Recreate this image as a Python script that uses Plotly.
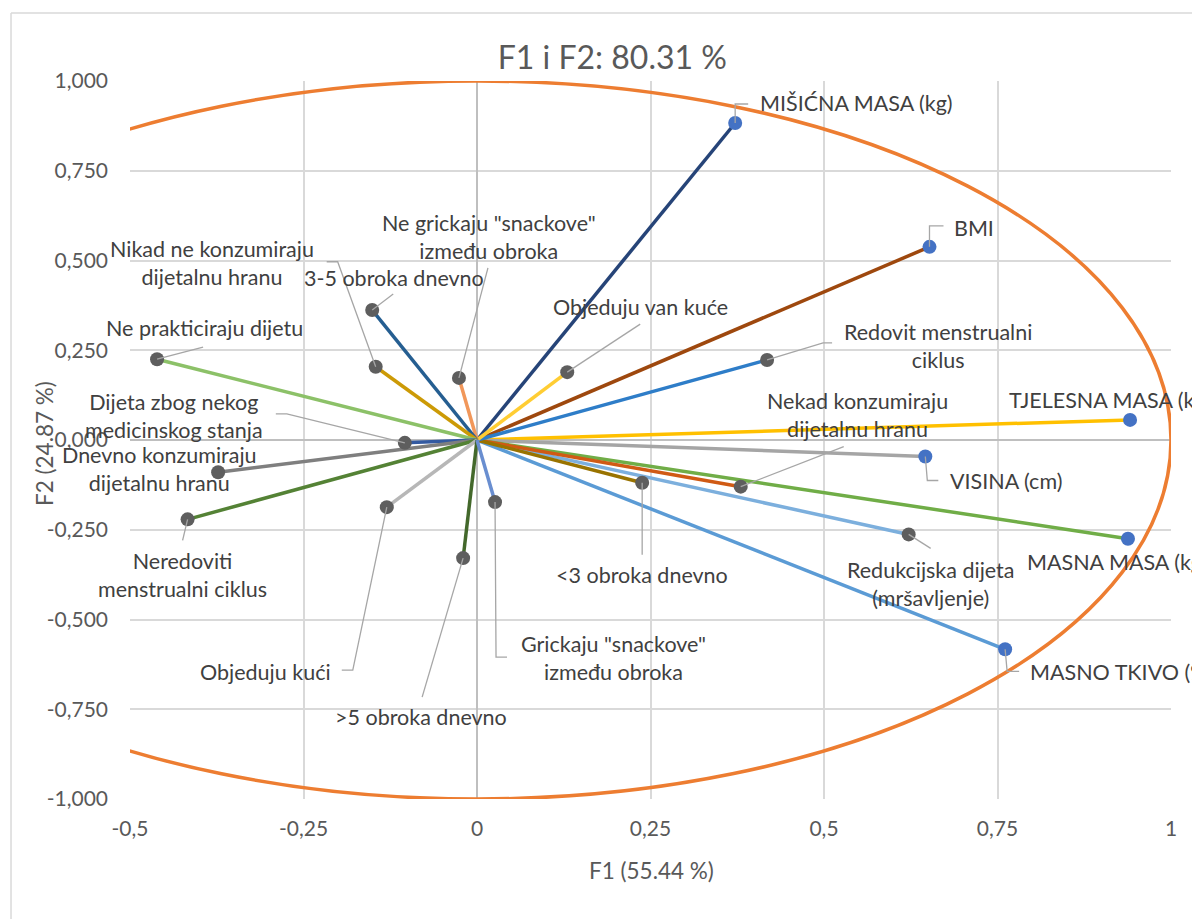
import plotly.graph_objects as go

# correlation circle: variables (F1, F2 loadings)
names = [
    "MIŠIĆNA MASA (kg)", "BMI", "TJELESNA MASA (kg)", "VISINA (cm)",
    "MASNA MASA (kg)", "MASNO TKIVO (%)",
    "Redukcijska dijeta<br>(mršavljenje)", "Nekad konzumiraju<br>dijetalnu hranu",
    "<3 obroka dnevno", "Redovit menstrualni<br>ciklus", "Objeduju van kuće",
    "Ne grickaju \"snackove\"<br>između obroka", "3-5 obroka dnevno",
    "Nikad ne konzumiraju<br>dijetalnu hranu", "Ne prakticiraju dijetu",
    "Dijeta zbog nekog<br>medicinskog stanja", "Dnevno konzumiraju<br>dijetalnu hranu",
    "Neredoviti<br>menstrualni ciklus", "Objeduju kući", ">5 obroka dnevno",
    "Grickaju \"snackove\"<br>između obroka",
]
f1 = [0.372, 0.652, 0.941, 0.646, 0.938, 0.761, 0.622, 0.380, 0.238, 0.418, 0.130,
      -0.026, -0.151, -0.146, -0.461, -0.104, -0.373, -0.417, -0.130, -0.020, 0.026]
f2 = [0.883, 0.538, 0.056, -0.046, -0.275, -0.583, -0.263, -0.130, -0.119, 0.223, 0.189,
      0.173, 0.362, 0.204, 0.225, -0.008, -0.090, -0.221, -0.187, -0.329, -0.173]
active = [True] * 6 + [False] * 15

x_ticks = [-0.5, -0.25, 0, 0.25, 0.5, 0.75, 1]
x_ticktext = ["-0,5", "-0,25", "0", "0,25", "0,5", "0,75", "1"]
y_ticks = [-1, -0.75, -0.5, -0.25, 0, 0.25, 0.5, 0.75, 1]
y_ticktext = ["-1,000", "-0,750", "-0,500", "-0,250", "0,000", "0,250", "0,500", "0,750", "1,000"]

LINE_COLORS = [
    "#264478", "#9E480E", "#FFC000", "#A5A5A5", "#70AD47", "#5B9BD5",
    "#7CAFDD", "#D05A14", "#997300", "#2E7DC8", "#FFCD33",
    "#F1975A", "#255E91", "#CC9A06", "#8CC168",
    "#335AA1", "#7F7F7F", "#548235", "#B7B7B7", "#43682B", "#698ED0",
]

# label placement in pixels relative to the point (dx right, dy down),
# anchor, and leader polyline (pixel offsets, dy down)
LABELS = [
    (23, -20, "left", [(0, 0), (0, -19), (13, -19)]),
    (23, -19, "left", [(0, 0), (0, -21), (14, -21)]),
    (-123, -20, "left", None),
    (23, 24, "left", [(0, 0), (2, 24), (13, 24)]),
    (-103, 23, "left", None),
    (23, 23, "left", [(0, 0), (2, 22), (14, 22)]),
    (22, 50, "center", [(0, 0), (22, 14)]),
    (117, -72, "center", [(0, 0), (103, -40)]),
    (0, 92, "center", [(0, 0), (0, 72)]),
    (171, -14, "center", [(0, 0), (56, -17), (65, -17)]),
    (73, -65, "center", [(0, 0), (73, -48)]),
    (30, -141, "center", [(0, 0), (29, -110)]),
    (22, -32, "center", [(0, 0), (21, -16)]),
    (-164, -104, "center", [(0, 0), (-38, -105), (-49, -105)]),
    (47, -31, "center", [(0, 0), (46, -12)]),
    (-231, -27, "center", [(0, 0), (-118, -29), (-129, -29)]),
    (-59, -3, "center", None),
    (-5, 56, "center", [(0, 0), (-5, 21)]),
    (-54, 165, "right", [(0, 0), (-34, 163), (-45, 163)]),
    (-42, 159, "center", [(0, 0), (-41, 139)]),
    (118, 156, "center", [(0, 0), (1, 155), (12, 155)]),
]

FONT = "Lato, 'Open Sans', sans-serif"
TEXT = "#404040"
TICK = "#595959"
GRID = "#D9D9D9"

fig = go.Figure()

for i in range(len(names)):
    fig.add_trace(go.Scatter(
        x=[0, f1[i]], y=[0, f2[i]],
        mode="lines",
        line=dict(color=LINE_COLORS[i], width=3.5),
        hoverinfo="skip",
        showlegend=False,
    ))

fig.add_trace(go.Scatter(
    x=f1, y=f2,
    mode="markers",
    marker=dict(size=14, color=["#4472C4" if a else "#5E5E5E" for a in active]),
    text=[n.replace("<br>", " ") for n in names],
    hoverinfo="text",
    showlegend=False,
))

shapes = [
    # unit correlation circle
    dict(type="circle", xref="x", yref="y", x0=-1, y0=-1, x1=1, y1=1,
         line=dict(color="#ED7D31", width=3.5), layer="between"),
    # chart area border (left and top)
    dict(type="line", xref="paper", yref="paper", x0=-0.1143, x1=-0.1143, y0=-0.2, y1=1.0947,
         line=dict(color=GRID, width=1.5)),
    dict(type="line", xref="paper", yref="paper", x0=-0.1143, x1=1.1, y0=1.0947, y1=1.0947,
         line=dict(color=GRID, width=1.5)),
]

annotations = []
for i, (dx, dy, anchor, leader) in enumerate(LABELS):
    annotations.append(dict(
        x=f1[i], y=f2[i], xref="x", yref="y",
        text=names[i], showarrow=False,
        xanchor=anchor, yanchor="middle",
        xshift=dx, yshift=-dy,
        font=dict(family=FONT, size=21.5, color=TEXT),
    ))
    if leader:
        path = "M " + " L ".join(f"{px},{-py}" for px, py in leader)
        shapes.append(dict(
            type="path", path=path,
            xref="x", yref="y", xsizemode="pixel", ysizemode="pixel",
            xanchor=f1[i], yanchor=f2[i],
            line=dict(color="#A6A6A6", width=1.3), layer="above",
        ))

# axis titles
annotations.append(dict(
    text="F1 (55.44 %)", xref="paper", yref="paper", x=0.5005, y=-0.099,
    xanchor="center", yanchor="middle", showarrow=False,
    font=dict(family=FONT, size=22.5, color=TICK),
))
annotations.append(dict(
    text="F2 (24.87 %)", xref="paper", yref="paper", x=-0.0826, y=0.5,
    xanchor="center", yanchor="middle", textangle=-90, showarrow=False, yshift=-4,
    font=dict(family=FONT, size=22.5, color=TICK),
))

fig.update_layout(
    width=1192, height=911,
    margin=dict(l=122, r=29, t=73, b=120),
    paper_bgcolor="white", plot_bgcolor="white",
    title=dict(text="F1 i F2: 80.31 %", x=0.507, xref="container", xanchor="center",
               y=0.945, yref="container", yanchor="middle",
               font=dict(family=FONT, size=32, color=TICK)),
    shapes=shapes,
    annotations=annotations,
    font=dict(family=FONT),
)
fig.update_xaxes(
    range=[-0.5, 1], tickvals=x_ticks, ticktext=x_ticktext,
    showgrid=True, gridcolor=GRID, gridwidth=1.5,
    zeroline=True, zerolinecolor="#BFBFBF", zerolinewidth=1.5,
    showline=False, ticks="", ticklabelstandoff=15,
    tickfont=dict(family=FONT, size=21, color=TICK),
)
fig.update_yaxes(
    range=[-1, 1], tickvals=y_ticks, ticktext=y_ticktext,
    showgrid=True, gridcolor=GRID, gridwidth=1.5,
    zeroline=True, zerolinecolor="#BFBFBF", zerolinewidth=1.5,
    showline=False, ticks="", ticklabelstandoff=21,
    tickfont=dict(family=FONT, size=21, color=TICK),
)

fig.write_html("out.html")
